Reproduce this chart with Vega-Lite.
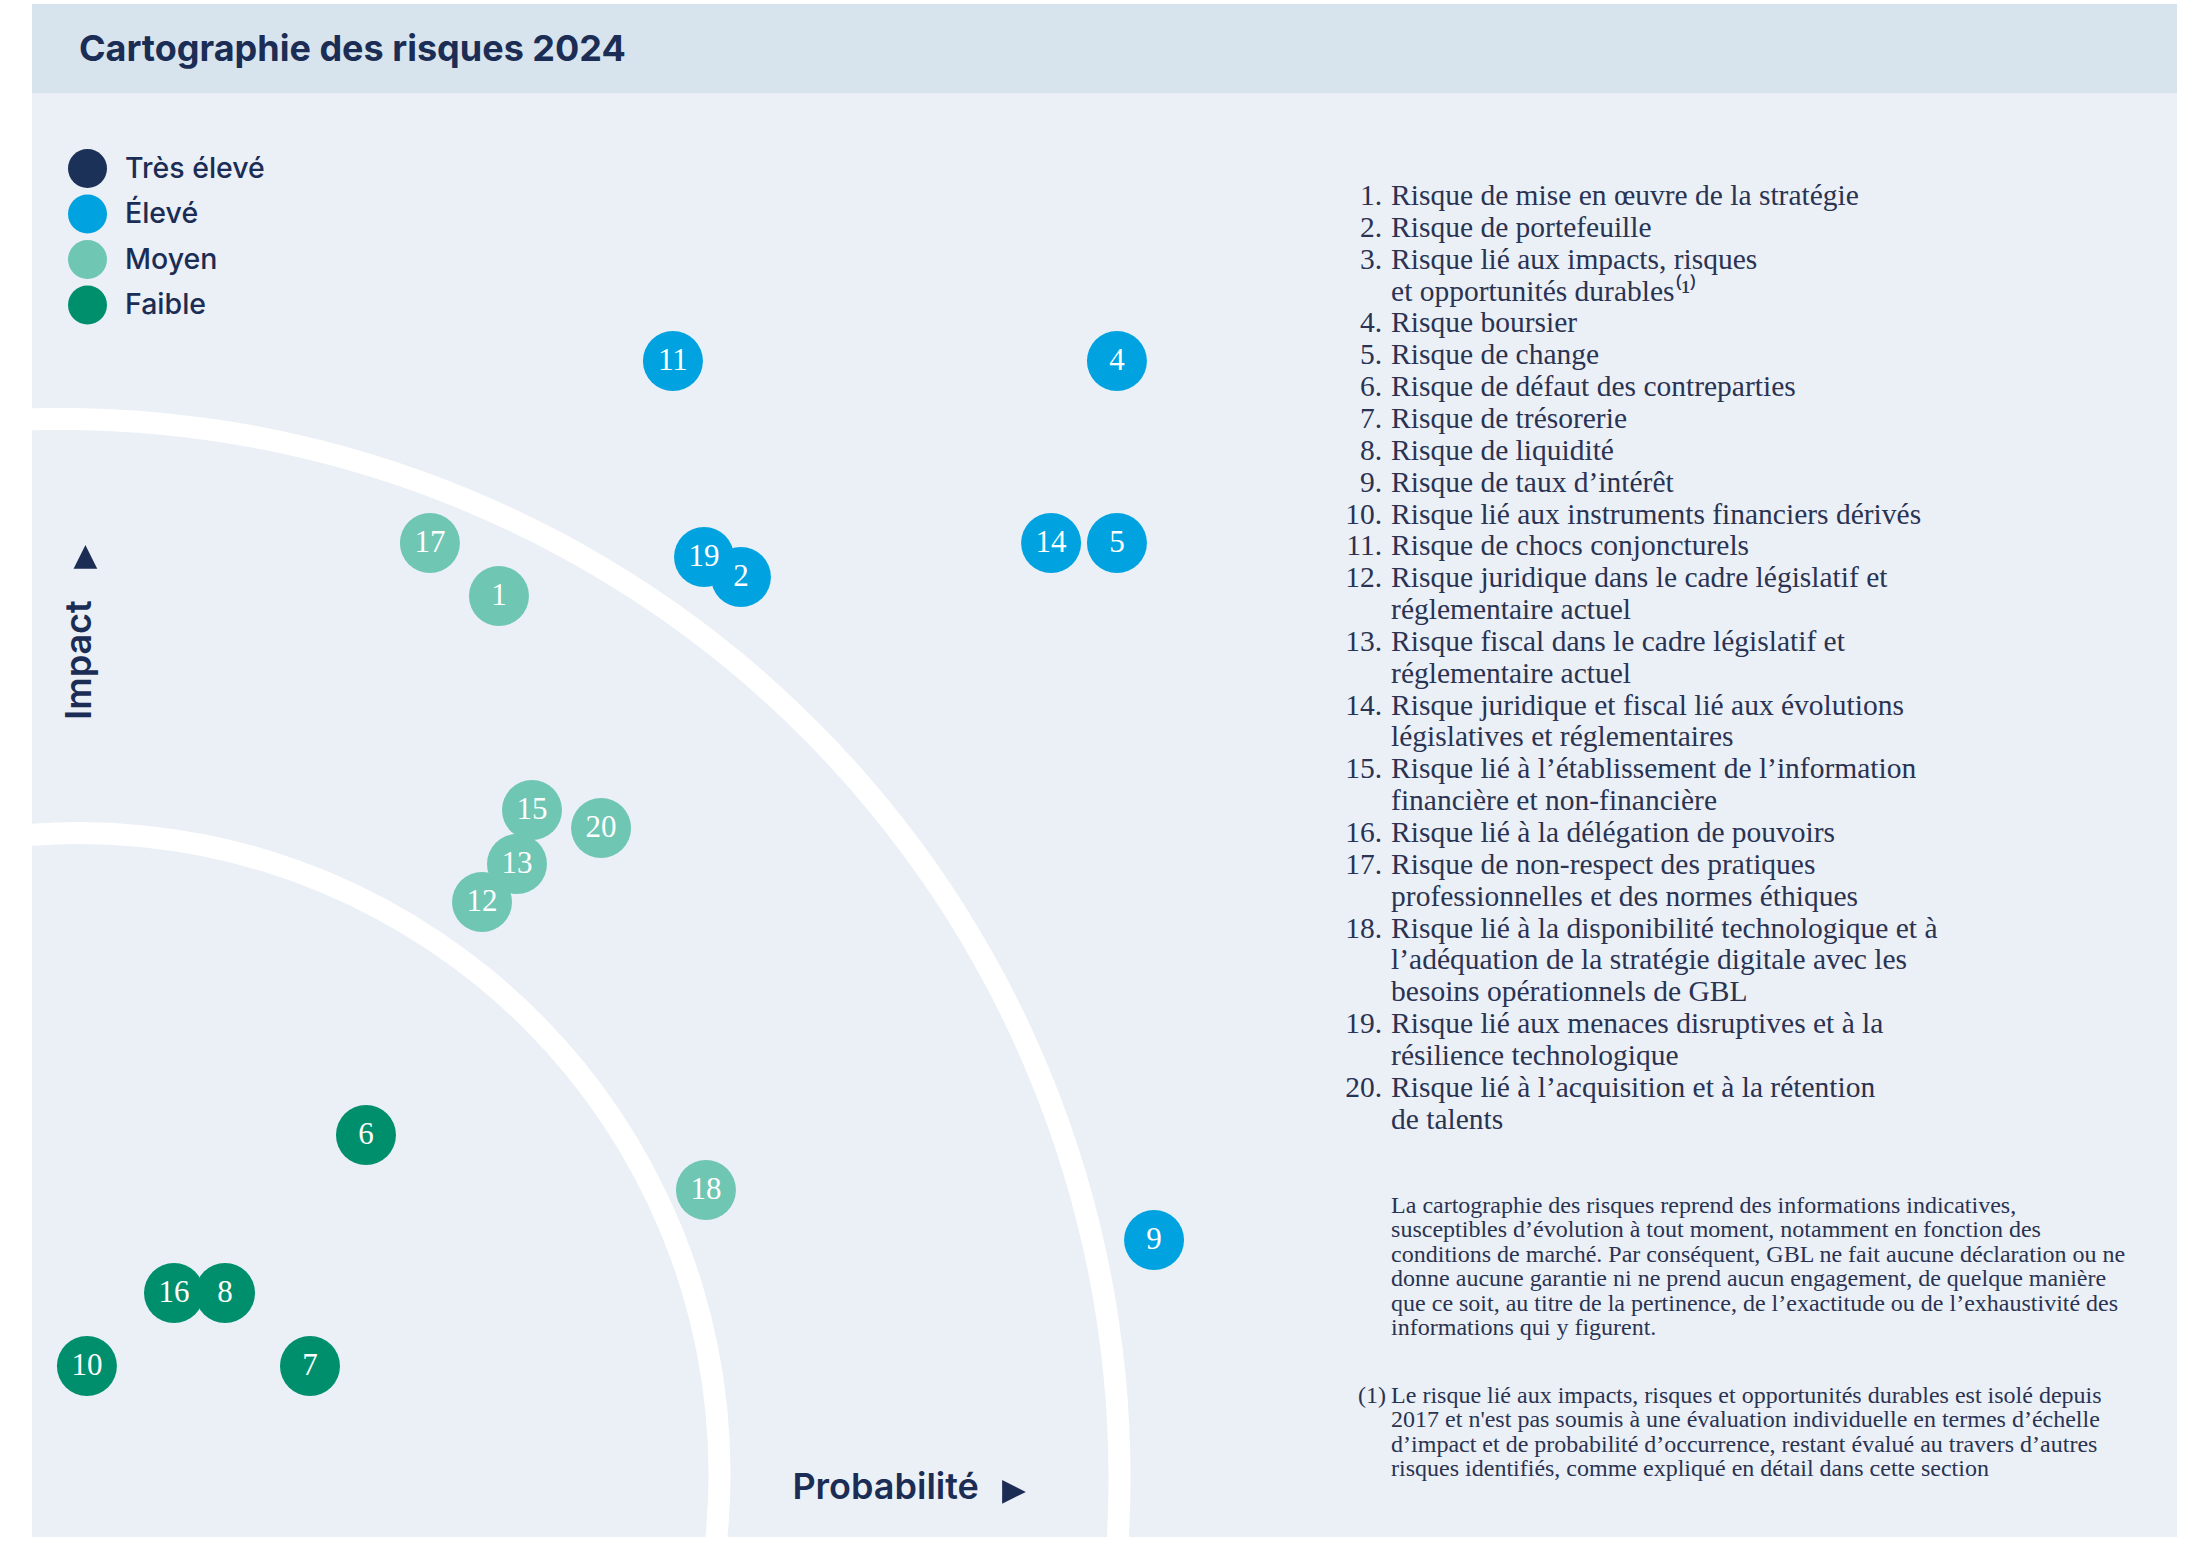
{
  "$schema": "https://vega.github.io/schema/vega-lite/v6.json",
  "width": 2145,
  "height": 1533,
  "autosize": {"type": "none"},
  "padding": {"left": 32, "top": 4, "right": 9, "bottom": 23},
  "background": "#ffffff",
  "config": {"view": {"fill": "#ebf0f7", "stroke": null}, "axis": {"disable": true}},
  "datasets": {
    "risques": [
      {"id": 1, "risque": "Risque de mise en œuvre de la stratégie", "niveau": "Moyen", "probabilite": 21.77, "impact": 61.38},
      {"id": 2, "risque": "Risque de portefeuille", "niveau": "Élevé", "probabilite": 33.05, "impact": 62.62},
      {"id": 3, "risque": "Risque lié aux impacts, risques\net opportunités durables⁽¹⁾", "niveau": null, "probabilite": null, "impact": null},
      {"id": 4, "risque": "Risque boursier", "niveau": "Élevé", "probabilite": 50.58, "impact": 76.71},
      {"id": 5, "risque": "Risque de change", "niveau": "Élevé", "probabilite": 50.58, "impact": 64.84},
      {"id": 6, "risque": "Risque de défaut des contreparties", "niveau": "Faible", "probabilite": 15.57, "impact": 26.22},
      {"id": 7, "risque": "Risque de trésorerie", "niveau": "Faible", "probabilite": 12.96, "impact": 11.15},
      {"id": 8, "risque": "Risque de liquidité", "niveau": "Faible", "probabilite": 9.0, "impact": 15.92},
      {"id": 9, "risque": "Risque de taux d’intérêt", "niveau": "Élevé", "probabilite": 52.31, "impact": 19.37},
      {"id": 10, "risque": "Risque lié aux instruments financiers dérivés", "niveau": "Faible", "probabilite": 2.56, "impact": 11.15},
      {"id": 11, "risque": "Risque de chocs conjoncturels", "niveau": "Élevé", "probabilite": 29.88, "impact": 76.71},
      {"id": 12, "risque": "Risque juridique dans le cadre législatif et\nréglementaire actuel", "niveau": "Moyen", "probabilite": 20.98, "impact": 41.42},
      {"id": 13, "risque": "Risque fiscal dans le cadre législatif et\nréglementaire actuel", "niveau": "Moyen", "probabilite": 22.61, "impact": 43.9},
      {"id": 14, "risque": "Risque juridique et fiscal lié aux évolutions\nlégislatives et réglementaires", "niveau": "Élevé", "probabilite": 47.51, "impact": 64.84},
      {"id": 15, "risque": "Risque lié à l’établissement de l’information\nfinancière et non-financière", "niveau": "Moyen", "probabilite": 23.31, "impact": 47.42},
      {"id": 16, "risque": "Risque lié à la délégation de pouvoirs", "niveau": "Faible", "probabilite": 6.62, "impact": 15.92},
      {"id": 17, "risque": "Risque de non-respect des pratiques\nprofessionnelles et des normes éthiques", "niveau": "Moyen", "probabilite": 18.55, "impact": 64.84},
      {"id": 18, "risque": "Risque lié à la disponibilité technologique et à\nl’adéquation de la stratégie digitale avec les\nbesoins opérationnels de GBL", "niveau": "Moyen", "probabilite": 31.42, "impact": 22.64},
      {"id": 19, "risque": "Risque lié aux menaces disruptives et à la\nrésilience technologique", "niveau": "Élevé", "probabilite": 31.33, "impact": 63.93},
      {"id": 20, "risque": "Risque lié à l’acquisition et à la rétention\nde talents", "niveau": "Moyen", "probabilite": 26.53, "impact": 46.25}
    ]
  },
  "resolve": {"scale": {"y": "independent"}},
  "layer": [
    {
      "layer": [
        {
          "data": {"values": [{}]},
          "mark": {"type": "rect", "fill": "#d7e4ee"},
          "encoding": {
            "x": {"datum": 0, "type": "quantitative", "scale": {"domain": [0, 100], "nice": false, "zero": false}, "axis": null},
            "x2": {"datum": 100},
            "y": {"datum": 94.19, "type": "quantitative", "scale": {"domain": [0, 100], "nice": false, "zero": false}, "axis": null},
            "y2": {"datum": 100}
          }
        },
        {
          "data": {"values": [{}]},
          "mark": {"type": "arc", "fill": "#ffffff", "radius": 1070, "radius2": 1048, "theta": 0, "theta2": 6.2832, "clip": true},
          "encoding": {
            "x": {"datum": 1.33, "type": "quantitative", "scale": {"domain": [0, 100], "nice": false, "zero": false}, "axis": null},
            "y": {"datum": 3.85, "type": "quantitative", "scale": {"domain": [0, 100], "nice": false, "zero": false}, "axis": null}
          }
        },
        {
          "data": {"values": [{}]},
          "mark": {"type": "arc", "fill": "#ffffff", "radius": 652, "radius2": 630, "theta": 0, "theta2": 6.2832, "clip": true},
          "encoding": {
            "x": {"datum": 2.17, "type": "quantitative", "scale": {"domain": [0, 100], "nice": false, "zero": false}, "axis": null},
            "y": {"datum": 4.11, "type": "quantitative", "scale": {"domain": [0, 100], "nice": false, "zero": false}, "axis": null}
          }
        },
        {
          "data": {"values": [{}]},
          "mark": {"type": "text", "text": "Cartographie des risques 2024", "font": "Inter", "fontSize": 36, "fontWeight": 700, "color": "#1b2d54", "align": "left", "baseline": "alphabetic"},
          "encoding": {
            "x": {"datum": 2.19, "type": "quantitative", "scale": {"domain": [0, 100], "nice": false, "zero": false}, "axis": null},
            "y": {"datum": 96.28, "type": "quantitative", "scale": {"domain": [0, 100], "nice": false, "zero": false}, "axis": null}
          }
        },
        {
          "data": {"name": "risques"},
          "transform": [{"filter": "isValid(datum.impact)"}],
          "mark": {"type": "point", "shape": "circle", "filled": true, "size": 3600, "opacity": 1, "strokeWidth": 0},
          "encoding": {
            "x": {"field": "probabilite", "type": "quantitative", "scale": {"domain": [0, 100], "nice": false, "zero": false}, "axis": null},
            "y": {"field": "impact", "type": "quantitative", "scale": {"domain": [0, 100], "nice": false, "zero": false}, "axis": null},
            "color": {
              "field": "niveau",
              "type": "nominal",
              "scale": {"domain": ["Très élevé", "Élevé", "Moyen", "Faible"], "range": ["#1b3158", "#00a3e0", "#6fc6b3", "#008f6d"]},
              "legend": {
                "orient": "none", "legendX": 36, "legendY": 145, "title": null, "padding": 0,
                "symbolType": "circle", "symbolSize": 1521, "symbolStrokeWidth": 0, "symbolOpacity": 1,
                "labelFont": "Inter", "labelFontSize": 28.5, "labelFontWeight": 500, "labelColor": "#1b2d54",
                "labelOffset": 18, "rowPadding": 6.5
              }
            },
            "order": [{"field": "impact", "sort": "descending"}, {"field": "probabilite", "sort": "ascending"}]
          }
        },
        {
          "data": {"name": "risques"},
          "transform": [{"filter": "isValid(datum.impact)"}],
          "mark": {"type": "text", "font": "Liberation Serif", "fontSize": 31, "color": "#ffffff", "align": "center", "baseline": "middle"},
          "encoding": {
            "x": {"field": "probabilite", "type": "quantitative", "scale": {"domain": [0, 100], "nice": false, "zero": false}, "axis": null},
            "y": {"field": "impact", "type": "quantitative", "scale": {"domain": [0, 100], "nice": false, "zero": false}, "axis": null},
            "text": {"field": "id", "type": "nominal"}
          }
        },
        {
          "data": {"values": [{}]},
          "mark": {"type": "text", "text": "Impact", "font": "Inter", "fontSize": 36, "fontWeight": 600, "color": "#1b2d54", "align": "center", "baseline": "middle", "angle": 270},
          "encoding": {
            "x": {"datum": 2.24, "type": "quantitative", "scale": {"domain": [0, 100], "nice": false, "zero": false}, "axis": null},
            "y": {"datum": 57.21, "type": "quantitative", "scale": {"domain": [0, 100], "nice": false, "zero": false}, "axis": null}
          }
        },
        {
          "data": {"values": [{}]},
          "mark": {"type": "point", "shape": "M0,-1L1,1L-1,1Z", "filled": true, "size": 560, "opacity": 1, "color": "#1b2d54", "strokeWidth": 0},
          "encoding": {
            "x": {"datum": 2.49, "type": "quantitative", "scale": {"domain": [0, 100], "nice": false, "zero": false}, "axis": null},
            "y": {"datum": 63.93, "type": "quantitative", "scale": {"domain": [0, 100], "nice": false, "zero": false}, "axis": null}
          }
        },
        {
          "data": {"values": [{}]},
          "mark": {"type": "text", "text": "Probabilité", "font": "Inter", "fontSize": 36, "fontWeight": 600, "color": "#1b2d54", "align": "left", "baseline": "middle"},
          "encoding": {
            "x": {"datum": 35.45, "type": "quantitative", "scale": {"domain": [0, 100], "nice": false, "zero": false}, "axis": null},
            "y": {"datum": 3.2, "type": "quantitative", "scale": {"domain": [0, 100], "nice": false, "zero": false}, "axis": null}
          }
        },
        {
          "data": {"values": [{}]},
          "mark": {"type": "point", "shape": "M-1,-1L1,0L-1,1Z", "filled": true, "size": 560, "opacity": 1, "color": "#1b2d54", "strokeWidth": 0},
          "encoding": {
            "x": {"datum": 45.78, "type": "quantitative", "scale": {"domain": [0, 100], "nice": false, "zero": false}, "axis": null},
            "y": {"datum": 2.94, "type": "quantitative", "scale": {"domain": [0, 100], "nice": false, "zero": false}, "axis": null}
          }
        },
        {
          "data": {"values": [{}]},
          "mark": {
            "type": "text", "font": "Liberation Serif", "fontSize": 24, "lineHeight": 24.4, "color": "#2a3352", "align": "left", "baseline": "alphabetic",
            "text": [
              "La cartographie des risques reprend des informations indicatives,",
              "susceptibles d’évolution à tout moment, notamment en fonction des",
              "conditions de marché. Par conséquent, GBL ne fait aucune déclaration ou ne",
              "donne aucune garantie ni ne prend aucun engagement, de quelque manière",
              "que ce soit, au titre de la pertinence, de l’exactitude ou de l’exhaustivité des",
              "informations qui y figurent."
            ]
          },
          "encoding": {
            "x": {"datum": 63.36, "type": "quantitative", "scale": {"domain": [0, 100], "nice": false, "zero": false}, "axis": null},
            "y": {"datum": 21.14, "type": "quantitative", "scale": {"domain": [0, 100], "nice": false, "zero": false}, "axis": null}
          }
        },
        {
          "data": {"values": [{}]},
          "mark": {"type": "text", "font": "Liberation Serif", "fontSize": 24, "color": "#2a3352", "align": "right", "baseline": "alphabetic", "text": "(1)"},
          "encoding": {
            "x": {"datum": 63.12, "type": "quantitative", "scale": {"domain": [0, 100], "nice": false, "zero": false}, "axis": null},
            "y": {"datum": 8.74, "type": "quantitative", "scale": {"domain": [0, 100], "nice": false, "zero": false}, "axis": null}
          }
        },
        {
          "data": {"values": [{}]},
          "mark": {
            "type": "text", "font": "Liberation Serif", "fontSize": 24, "lineHeight": 24.4, "color": "#2a3352", "align": "left", "baseline": "alphabetic",
            "text": [
              "Le risque lié aux impacts, risques et opportunités durables est isolé depuis",
              "2017 et n'est pas soumis à une évaluation individuelle en termes d’échelle",
              "d’impact et de probabilité d’occurrence, restant évalué au travers d’autres",
              "risques identifiés, comme expliqué en détail dans cette section"
            ]
          },
          "encoding": {
            "x": {"datum": 63.36, "type": "quantitative", "scale": {"domain": [0, 100], "nice": false, "zero": false}, "axis": null},
            "y": {"datum": 8.74, "type": "quantitative", "scale": {"domain": [0, 100], "nice": false, "zero": false}, "axis": null}
          }
        }
      ]
    },
    {
      "data": {"name": "risques"},
      "layer": [
        {
          "mark": {"type": "text", "font": "Liberation Serif", "fontSize": 29.5, "color": "#2a3352", "align": "right", "baseline": "alphabetic", "text": {"expr": "datum.id + '.'"}},
          "encoding": {
            "x": {"datum": 62.94, "type": "quantitative", "scale": {"domain": [0, 100], "nice": false, "zero": false}, "axis": null},
            "y": {"field": "id", "type": "quantitative", "axis": null,
                  "scale": {"domain": [1, 2, 3, 4, 5, 6, 7, 8, 9, 10, 11, 12, 13, 14, 15, 16, 17, 18, 19, 20],
                            "range": [201, 232.85, 264.7, 328.4, 360.25, 392.1, 423.95, 455.8, 487.65, 519.5, 551.35, 583.2, 646.9, 710.6, 774.3, 838, 869.85, 933.55, 1029.1, 1092.8]}}
          }
        },
        {
          "mark": {"type": "text", "font": "Liberation Serif", "fontSize": 29.5, "lineHeight": 31.85, "lineBreak": "\n", "color": "#2a3352", "align": "left", "baseline": "alphabetic"},
          "encoding": {
            "x": {"datum": 63.36, "type": "quantitative", "scale": {"domain": [0, 100], "nice": false, "zero": false}, "axis": null},
            "y": {"field": "id", "type": "quantitative", "axis": null,
                  "scale": {"domain": [1, 2, 3, 4, 5, 6, 7, 8, 9, 10, 11, 12, 13, 14, 15, 16, 17, 18, 19, 20],
                            "range": [201, 232.85, 264.7, 328.4, 360.25, 392.1, 423.95, 455.8, 487.65, 519.5, 551.35, 583.2, 646.9, 710.6, 774.3, 838, 869.85, 933.55, 1029.1, 1092.8]}},
            "text": {"field": "risque", "type": "nominal"}
          }
        }
      ]
    }
  ]
}
